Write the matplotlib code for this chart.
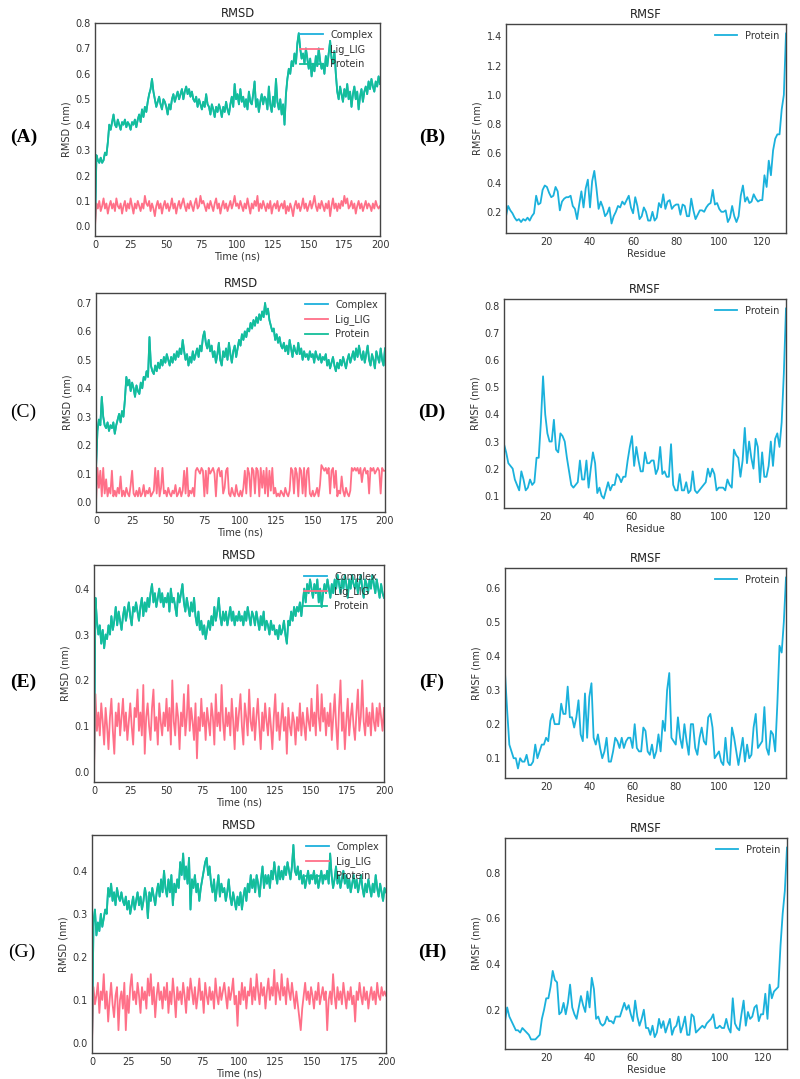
import matplotlib
matplotlib.use("Agg")
import matplotlib.pyplot as plt
import numpy as np

# ---------------- data ----------------
time_ns = list(range(0, 201))          # 0..200 ns, 1 ns step
residues = list(range(1, 132))         # residues 1..131

protein_A = [0.00,0.28,0.26,0.25,0.27,0.25,0.26,0.29,0.28,0.33,
0.40,0.38,0.41,0.44,0.40,0.39,0.42,0.40,0.38,0.41,
0.40,0.42,0.39,0.41,0.40,0.38,0.41,0.40,0.42,0.39,
0.42,0.44,0.41,0.46,0.43,0.47,0.45,0.49,0.52,0.54,
0.58,0.53,0.50,0.47,0.49,0.51,0.48,0.46,0.50,0.49,
0.47,0.44,0.48,0.46,0.50,0.52,0.49,0.51,0.53,0.50,
0.52,0.54,0.50,0.53,0.55,0.52,0.54,0.51,0.53,0.50,
0.49,0.51,0.47,0.50,0.48,0.46,0.49,0.47,0.52,0.48,
0.47,0.44,0.48,0.46,0.43,0.47,0.45,0.48,0.46,0.43,
0.47,0.45,0.49,0.46,0.44,0.48,0.51,0.47,0.56,0.50,
0.52,0.48,0.54,0.49,0.51,0.47,0.50,0.46,0.53,0.49,
0.48,0.52,0.57,0.47,0.50,0.45,0.49,0.52,0.48,0.51,
0.50,0.46,0.55,0.48,0.45,0.51,0.47,0.58,0.49,0.46,
0.50,0.44,0.48,0.40,0.52,0.58,0.62,0.60,0.65,0.63,
0.68,0.64,0.72,0.76,0.70,0.66,0.68,0.64,0.70,0.66,
0.62,0.66,0.59,0.64,0.61,0.67,0.63,0.70,0.65,0.62,
0.64,0.60,0.67,0.63,0.68,0.73,0.66,0.64,0.69,0.60,
0.53,0.50,0.55,0.52,0.49,0.54,0.51,0.56,0.50,0.53,
0.47,0.52,0.55,0.50,0.53,0.46,0.51,0.54,0.49,0.53,
0.55,0.52,0.57,0.54,0.58,0.55,0.53,0.57,0.55,0.59,
0.56]
ligand_A = [0.00,0.09,0.07,0.10,0.06,0.08,0.11,0.07,0.09,0.05,
0.08,0.10,0.07,0.09,0.06,0.11,0.08,0.07,0.09,0.05,
0.08,0.10,0.06,0.09,0.07,0.11,0.08,0.05,0.09,0.07,
0.10,0.08,0.06,0.09,0.07,0.12,0.09,0.08,0.10,0.06,
0.09,0.07,0.04,0.08,0.10,0.07,0.09,0.05,0.08,0.10,
0.07,0.09,0.06,0.08,0.11,0.07,0.09,0.05,0.08,0.10,
0.07,0.09,0.11,0.08,0.06,0.09,0.07,0.10,0.08,0.06,
0.09,0.11,0.07,0.08,0.12,0.09,0.10,0.08,0.06,0.09,
0.07,0.10,0.08,0.06,0.09,0.11,0.07,0.09,0.05,0.08,
0.10,0.07,0.09,0.06,0.08,0.10,0.07,0.09,0.12,0.08,
0.09,0.07,0.10,0.08,0.06,0.09,0.07,0.11,0.08,0.05,
0.09,0.07,0.10,0.08,0.12,0.06,0.09,0.07,0.10,0.08,
0.06,0.09,0.07,0.10,0.05,0.08,0.09,0.07,0.10,0.06,
0.08,0.09,0.07,0.10,0.05,0.08,0.06,0.09,0.07,0.04,
0.08,0.10,0.07,0.09,0.06,0.08,0.11,0.07,0.09,0.06,
0.08,0.10,0.07,0.09,0.12,0.08,0.06,0.09,0.07,0.10,
0.08,0.06,0.09,0.07,0.10,0.04,0.08,0.11,0.07,0.09,
0.06,0.09,0.07,0.10,0.08,0.12,0.09,0.11,0.07,0.08,
0.10,0.07,0.09,0.05,0.08,0.10,0.07,0.09,0.06,0.08,
0.10,0.07,0.09,0.08,0.06,0.09,0.07,0.10,0.08,0.07,
0.08]
complex_A = protein_A

protein_C = [0.12,0.25,0.29,0.27,0.37,0.30,0.27,0.26,0.28,0.25,
0.27,0.26,0.28,0.24,0.27,0.29,0.31,0.28,0.32,0.30,
0.36,0.44,0.41,0.43,0.39,0.42,0.40,0.37,0.41,0.39,
0.38,0.42,0.40,0.44,0.43,0.46,0.44,0.58,0.48,0.46,
0.45,0.48,0.46,0.49,0.47,0.50,0.48,0.51,0.49,0.52,
0.50,0.48,0.51,0.49,0.52,0.50,0.53,0.51,0.54,0.52,
0.57,0.53,0.50,0.52,0.48,0.51,0.49,0.53,0.50,0.52,
0.54,0.51,0.55,0.53,0.58,0.60,0.56,0.54,0.57,0.53,
0.55,0.51,0.53,0.49,0.52,0.56,0.50,0.48,0.53,0.51,
0.54,0.50,0.56,0.52,0.49,0.53,0.55,0.51,0.54,0.57,
0.55,0.59,0.57,0.60,0.58,0.61,0.60,0.63,0.61,0.64,
0.62,0.65,0.63,0.66,0.64,0.67,0.65,0.70,0.66,0.68,
0.64,0.62,0.60,0.61,0.57,0.59,0.56,0.58,0.55,0.54,
0.56,0.53,0.55,0.52,0.57,0.54,0.51,0.55,0.53,0.52,
0.56,0.52,0.54,0.50,0.53,0.51,0.52,0.50,0.53,0.51,
0.52,0.49,0.53,0.51,0.50,0.52,0.49,0.51,0.50,0.52,
0.48,0.50,0.47,0.49,0.51,0.48,0.46,0.49,0.47,0.50,
0.48,0.51,0.49,0.47,0.50,0.52,0.49,0.51,0.53,0.50,
0.54,0.51,0.55,0.52,0.50,0.53,0.49,0.52,0.55,0.50,
0.48,0.52,0.50,0.47,0.53,0.51,0.49,0.54,0.50,0.48,
0.54]
ligand_C = [0.00,0.12,0.05,0.11,0.02,0.12,0.03,0.08,0.02,0.05,
0.03,0.11,0.02,0.04,0.02,0.05,0.03,0.09,0.02,0.04,
0.02,0.05,0.03,0.02,0.06,0.11,0.03,0.02,0.04,0.02,
0.05,0.02,0.03,0.06,0.02,0.04,0.03,0.05,0.02,0.03,
0.04,0.12,0.03,0.11,0.02,0.05,0.12,0.03,0.04,0.02,
0.05,0.03,0.02,0.04,0.03,0.06,0.02,0.03,0.05,0.02,
0.04,0.11,0.03,0.12,0.02,0.04,0.03,0.05,0.02,0.11,
0.12,0.11,0.10,0.12,0.11,0.02,0.11,0.03,0.12,0.10,
0.11,0.12,0.10,0.02,0.11,0.12,0.09,0.11,0.03,0.05,
0.11,0.12,0.03,0.02,0.05,0.03,0.02,0.06,0.03,0.02,
0.04,0.02,0.05,0.11,0.03,0.12,0.10,0.02,0.12,0.11,
0.03,0.12,0.11,0.02,0.12,0.05,0.11,0.03,0.12,0.02,
0.11,0.04,0.12,0.03,0.05,0.02,0.03,0.02,0.04,0.03,
0.02,0.05,0.03,0.02,0.04,0.12,0.11,0.03,0.12,0.10,
0.02,0.12,0.11,0.03,0.12,0.02,0.11,0.12,0.03,0.02,
0.04,0.02,0.03,0.05,0.02,0.06,0.13,0.12,0.11,0.12,
0.10,0.12,0.03,0.11,0.12,0.05,0.11,0.02,0.04,0.03,
0.09,0.04,0.02,0.05,0.03,0.02,0.04,0.12,0.11,0.12,
0.11,0.12,0.10,0.12,0.07,0.11,0.12,0.10,0.11,0.03,
0.12,0.11,0.12,0.10,0.11,0.12,0.11,0.03,0.12,0.11,
0.11]
complex_C = protein_C

protein_E = [0.00,0.38,0.33,0.30,0.32,0.28,0.31,0.27,0.30,0.29,
0.32,0.30,0.34,0.31,0.33,0.36,0.32,0.35,0.33,0.31,
0.34,0.36,0.33,0.35,0.37,0.34,0.32,0.36,0.35,0.37,
0.35,0.33,0.36,0.38,0.34,0.37,0.35,0.38,0.36,0.39,
0.41,0.37,0.39,0.36,0.38,0.40,0.37,0.39,0.36,0.38,
0.37,0.39,0.35,0.40,0.37,0.38,0.36,0.34,0.39,0.37,
0.39,0.41,0.37,0.35,0.38,0.36,0.34,0.37,0.35,0.38,
0.34,0.32,0.35,0.31,0.33,0.30,0.32,0.29,0.31,0.33,
0.31,0.34,0.32,0.36,0.33,0.35,0.38,0.34,0.32,0.35,
0.33,0.35,0.32,0.34,0.36,0.33,0.35,0.32,0.34,0.33,
0.35,0.33,0.34,0.32,0.35,0.33,0.36,0.34,0.32,0.35,
0.34,0.32,0.35,0.33,0.31,0.34,0.32,0.35,0.31,0.33,
0.32,0.30,0.33,0.31,0.32,0.30,0.31,0.29,0.32,0.30,
0.31,0.33,0.30,0.28,0.33,0.32,0.35,0.33,0.36,0.34,
0.36,0.35,0.37,0.34,0.37,0.40,0.37,0.41,0.39,0.42,
0.40,0.38,0.41,0.39,0.42,0.37,0.40,0.36,0.39,0.41,
0.39,0.42,0.40,0.38,0.41,0.39,0.42,0.40,0.43,0.41,
0.39,0.42,0.40,0.43,0.41,0.38,0.42,0.40,0.43,0.41,
0.40,0.42,0.39,0.41,0.43,0.40,0.38,0.42,0.41,0.39,
0.42,0.40,0.43,0.41,0.39,0.42,0.40,0.38,0.41,0.39,
0.38]
ligand_E = [0.00,0.17,0.09,0.13,0.08,0.15,0.11,0.06,0.14,0.10,
0.05,0.12,0.16,0.09,0.04,0.13,0.10,0.15,0.08,0.12,
0.16,0.09,0.13,0.07,0.11,0.15,0.10,0.06,0.14,0.12,
0.18,0.09,0.13,0.08,0.19,0.04,0.12,0.15,0.10,0.07,
0.14,0.18,0.09,0.12,0.06,0.15,0.11,0.08,0.13,0.10,
0.16,0.09,0.14,0.06,0.20,0.11,0.08,0.15,0.12,0.05,
0.13,0.10,0.17,0.08,0.12,0.19,0.09,0.14,0.11,0.07,
0.15,0.03,0.12,0.09,0.16,0.10,0.13,0.07,0.14,0.11,
0.08,0.15,0.12,0.06,0.17,0.10,0.13,0.09,0.19,0.11,
0.07,0.14,0.10,0.13,0.08,0.16,0.11,0.05,0.14,0.09,
0.13,0.17,0.10,0.06,0.15,0.12,0.08,0.18,0.11,0.09,
0.14,0.07,0.12,0.16,0.10,0.05,0.13,0.09,0.15,0.11,
0.08,0.14,0.10,0.05,0.12,0.17,0.09,0.13,0.07,0.11,
0.15,0.09,0.12,0.04,0.14,0.10,0.08,0.13,0.11,0.06,
0.12,0.09,0.15,0.08,0.13,0.10,0.07,0.14,0.11,0.09,
0.16,0.10,0.13,0.08,0.19,0.12,0.09,0.17,0.11,0.14,
0.08,0.13,0.10,0.15,0.07,0.12,0.17,0.10,0.05,0.14,
0.20,0.09,0.13,0.05,0.11,0.16,0.08,0.12,0.15,0.10,
0.07,0.13,0.18,0.09,0.12,0.20,0.11,0.08,0.14,0.10,
0.13,0.08,0.15,0.11,0.09,0.14,0.10,0.15,0.12,0.09,
0.14]
complex_E = protein_E

protein_G = [0.00,0.28,0.31,0.25,0.28,0.26,0.30,0.27,0.29,0.31,
0.30,0.36,0.34,0.37,0.33,0.35,0.32,0.36,0.34,0.33,
0.35,0.33,0.32,0.34,0.31,0.33,0.30,0.32,0.34,0.31,
0.33,0.35,0.32,0.34,0.31,0.33,0.36,0.34,0.29,0.35,
0.33,0.36,0.34,0.32,0.35,0.37,0.34,0.38,0.35,0.40,
0.36,0.34,0.38,0.35,0.39,0.32,0.37,0.35,0.38,0.36,
0.42,0.39,0.44,0.38,0.41,0.37,0.43,0.31,0.38,0.36,
0.39,0.35,0.37,0.33,0.36,0.38,0.40,0.42,0.43,0.39,
0.41,0.37,0.35,0.38,0.33,0.36,0.39,0.34,0.37,0.35,
0.36,0.33,0.35,0.38,0.34,0.32,0.35,0.33,0.31,0.34,
0.32,0.35,0.31,0.34,0.36,0.33,0.37,0.35,0.39,0.36,
0.38,0.35,0.39,0.37,0.34,0.38,0.41,0.36,0.39,0.37,
0.39,0.36,0.40,0.38,0.42,0.39,0.37,0.41,0.38,0.40,
0.38,0.41,0.39,0.42,0.40,0.38,0.41,0.46,0.40,0.39,
0.41,0.38,0.40,0.37,0.39,0.36,0.38,0.40,0.37,0.39,
0.38,0.40,0.37,0.39,0.36,0.38,0.40,0.37,0.39,0.38,
0.40,0.37,0.44,0.39,0.36,0.38,0.41,0.37,0.39,0.36,
0.38,0.40,0.37,0.39,0.36,0.38,0.35,0.37,0.39,0.36,
0.38,0.35,0.37,0.39,0.36,0.34,0.37,0.35,0.38,0.36,
0.34,0.37,0.35,0.39,0.36,0.34,0.37,0.35,0.33,0.36,
0.35]
ligand_G = [0.00,0.13,0.09,0.11,0.14,0.07,0.12,0.10,0.16,0.08,
0.12,0.05,0.10,0.14,0.09,0.06,0.11,0.13,0.03,0.10,
0.12,0.08,0.14,0.03,0.11,0.07,0.13,0.16,0.10,0.12,
0.09,0.14,0.11,0.07,0.13,0.10,0.12,0.08,0.15,0.11,
0.16,0.09,0.13,0.06,0.11,0.14,0.10,0.12,0.08,0.13,
0.10,0.14,0.07,0.12,0.09,0.15,0.11,0.06,0.13,0.10,
0.12,0.09,0.14,0.11,0.07,0.13,0.10,0.15,0.12,0.09,
0.13,0.08,0.11,0.15,0.10,0.12,0.07,0.14,0.11,0.09,
0.13,0.10,0.12,0.08,0.15,0.11,0.09,0.13,0.10,0.12,
0.14,0.11,0.08,0.13,0.10,0.12,0.15,0.09,0.11,0.04,
0.12,0.09,0.14,0.10,0.13,0.08,0.12,0.11,0.15,0.09,
0.13,0.10,0.16,0.12,0.09,0.14,0.11,0.13,0.08,0.12,
0.15,0.10,0.13,0.11,0.17,0.09,0.14,0.12,0.10,0.16,
0.11,0.13,0.09,0.15,0.12,0.10,0.14,0.11,0.08,0.12,
0.09,0.06,0.03,0.08,0.11,0.14,0.10,0.12,0.09,0.13,
0.11,0.08,0.12,0.10,0.14,0.09,0.11,0.13,0.10,0.12,
0.03,0.10,0.12,0.09,0.16,0.11,0.08,0.13,0.10,0.12,
0.09,0.14,0.11,0.08,0.12,0.10,0.13,0.09,0.11,0.05,
0.12,0.10,0.14,0.11,0.09,0.13,0.10,0.12,0.08,0.11,
0.13,0.10,0.12,0.09,0.14,0.11,0.10,0.13,0.11,0.12,
0.11]
complex_G = protein_G

rmsf_B = [0.17,0.24,0.21,0.19,0.16,0.14,0.15,0.13,0.15,0.14,
0.16,0.14,0.17,0.19,0.31,0.25,0.26,0.35,0.38,0.37,
0.33,0.30,0.31,0.37,0.34,0.21,0.27,0.29,0.30,0.30,
0.31,0.24,0.22,0.15,0.25,0.34,0.23,0.36,0.42,0.23,
0.41,0.48,0.36,0.22,0.27,0.23,0.17,0.19,0.23,0.12,
0.17,0.20,0.24,0.23,0.27,0.25,0.28,0.31,0.23,0.19,
0.30,0.24,0.15,0.17,0.23,0.20,0.14,0.14,0.20,0.14,
0.16,0.26,0.23,0.32,0.22,0.27,0.28,0.22,0.24,0.25,
0.25,0.18,0.25,0.24,0.17,0.17,0.29,0.21,0.15,0.18,
0.21,0.21,0.20,0.23,0.25,0.26,0.35,0.25,0.26,0.22,
0.20,0.20,0.21,0.13,0.16,0.24,0.17,0.13,0.17,0.31,
0.38,0.27,0.30,0.26,0.27,0.32,0.29,0.27,0.28,0.28,
0.45,0.37,0.55,0.45,0.62,0.70,0.73,0.73,0.90,1.00,
1.42]
rmsf_D = [0.29,0.26,0.22,0.21,0.20,0.16,0.14,0.12,0.19,0.16,
0.12,0.13,0.16,0.14,0.15,0.24,0.24,0.37,0.54,0.40,
0.33,0.30,0.30,0.38,0.27,0.26,0.33,0.32,0.30,0.24,
0.19,0.14,0.13,0.14,0.15,0.23,0.16,0.16,0.23,0.13,
0.20,0.26,0.22,0.11,0.13,0.10,0.09,0.12,0.15,0.12,
0.14,0.14,0.18,0.17,0.15,0.17,0.17,0.23,0.28,0.32,
0.21,0.28,0.23,0.19,0.19,0.26,0.22,0.22,0.23,0.23,
0.18,0.20,0.28,0.18,0.19,0.17,0.17,0.29,0.14,0.12,
0.12,0.18,0.12,0.12,0.15,0.11,0.12,0.19,0.12,0.11,
0.12,0.13,0.14,0.15,0.20,0.17,0.20,0.18,0.12,0.13,
0.13,0.13,0.12,0.16,0.14,0.13,0.27,0.25,0.24,0.17,
0.23,0.35,0.22,0.30,0.24,0.20,0.31,0.28,0.15,0.26,
0.17,0.17,0.21,0.30,0.21,0.31,0.33,0.28,0.37,0.55,
0.79]
rmsf_F = [0.35,0.24,0.14,0.12,0.10,0.10,0.07,0.10,0.09,0.09,
0.11,0.08,0.08,0.09,0.14,0.10,0.12,0.14,0.14,0.16,
0.15,0.21,0.23,0.20,0.20,0.20,0.26,0.23,0.23,0.31,
0.22,0.22,0.19,0.22,0.27,0.17,0.15,0.29,0.16,0.28,
0.32,0.16,0.14,0.17,0.13,0.10,0.12,0.16,0.09,0.09,
0.12,0.16,0.15,0.13,0.16,0.13,0.15,0.16,0.16,0.13,
0.20,0.13,0.12,0.12,0.19,0.18,0.12,0.11,0.14,0.10,
0.12,0.17,0.12,0.21,0.18,0.30,0.35,0.16,0.15,0.14,
0.22,0.16,0.13,0.20,0.15,0.11,0.20,0.20,0.13,0.11,
0.16,0.19,0.15,0.14,0.22,0.23,0.19,0.10,0.11,0.12,
0.09,0.08,0.16,0.09,0.08,0.19,0.16,0.12,0.08,0.12,
0.16,0.09,0.14,0.10,0.11,0.19,0.23,0.13,0.14,0.15,
0.25,0.13,0.11,0.18,0.17,0.12,0.26,0.43,0.41,0.50,
0.63]
rmsf_H = [0.15,0.21,0.17,0.15,0.13,0.11,0.11,0.10,0.12,0.11,
0.10,0.09,0.07,0.07,0.07,0.08,0.09,0.16,0.20,0.25,
0.25,0.30,0.37,0.33,0.32,0.18,0.19,0.23,0.18,0.23,
0.31,0.21,0.18,0.16,0.21,0.26,0.22,0.19,0.28,0.21,
0.34,0.29,0.16,0.17,0.14,0.13,0.14,0.17,0.15,0.15,
0.14,0.17,0.17,0.17,0.20,0.23,0.20,0.22,0.18,0.15,
0.24,0.17,0.13,0.16,0.20,0.12,0.12,0.09,0.13,0.08,
0.10,0.16,0.12,0.15,0.10,0.13,0.16,0.09,0.12,0.13,
0.17,0.10,0.13,0.17,0.09,0.09,0.18,0.17,0.10,0.11,
0.12,0.13,0.12,0.14,0.15,0.16,0.18,0.12,0.12,0.13,
0.12,0.12,0.16,0.12,0.10,0.25,0.14,0.12,0.11,0.18,
0.24,0.13,0.19,0.16,0.17,0.21,0.22,0.15,0.18,0.18,
0.27,0.16,0.31,0.25,0.28,0.29,0.30,0.48,0.62,0.72,
0.91]

panel_labels = ["(A)", "(B)", "(C)", "(D)", "(E)", "(F)", "(G)", "(H)"]
rmsd_series = [(complex_A, ligand_A, protein_A), (complex_C, ligand_C, protein_C),
               (complex_E, ligand_E, protein_E), (complex_G, ligand_G, protein_G)]
rmsf_series = [rmsf_B, rmsf_D, rmsf_F, rmsf_H]
rmsd_yticks = [[0.0,0.1,0.2,0.3,0.4,0.5,0.6,0.7,0.8],
               [0.0,0.1,0.2,0.3,0.4,0.5,0.6,0.7],
               [0.0,0.1,0.2,0.3,0.4],
               [0.0,0.1,0.2,0.3,0.4]]
rmsf_yticks = [[0.2,0.4,0.6,0.8,1.0,1.2,1.4],
               [0.1,0.2,0.3,0.4,0.5,0.6,0.7,0.8],
               [0.1,0.2,0.3,0.4,0.5,0.6],
               [0.2,0.4,0.6,0.8]]
rmsd_xticks = [0, 25, 50, 75, 100, 125, 150, 175, 200]
rmsf_xticks = [20, 40, 60, 80, 100, 120]
series_names = ["Complex", "Lig_LIG", "Protein"]

# ---------------- style ----------------
C_COMPLEX = "#1cb0dc"
C_LIG = "#ff7088"
C_PROT = "#14be9a"
C_RMSF = "#1ab1dc"
SPINE = "#444444"
TXT = "#333333"

W, H = 800, 1079
fig = plt.figure(figsize=(W / 100, H / 100), dpi=100)
fig.patch.set_facecolor("white")

# pixel boxes (left, top, right, bottom)
left_boxes = [(95, 23, 380, 236), (96, 293, 385, 512), (94, 565, 384, 782), (92, 835, 386, 1053)]
right_boxes = [(506, 24, 786, 233), (504, 299, 786, 508), (505, 568, 786, 778), (505, 838, 787, 1049)]
label_pos_left = [(24, 137), (23, 412), (23, 682), (22, 952)]
label_pos_right = [(432, 137), (432, 412), (432, 682), (432, 952)]
label_bold = [True, True, False, True, True, True, False, True]


def make_ax(box):
    l, t, r, b = box
    return fig.add_axes([l / W, 1 - b / H, (r - l) / W, (b - t) / H])


def style_ax(ax):
    for s in ax.spines.values():
        s.set_color(SPINE)
        s.set_linewidth(1.0)
    ax.tick_params(length=0, pad=3, labelsize=7, colors=TXT)


for i in range(4):
    # RMSD
    ax = make_ax(left_boxes[i])
    cx, lg, pr = rmsd_series[i]
    ax.plot(time_ns, cx, color=C_COMPLEX, lw=1.3, label=series_names[0])
    ax.plot(time_ns, lg, color=C_LIG, lw=1.3, label=series_names[1])
    ax.plot(time_ns, pr, color=C_PROT, lw=1.3, label=series_names[2])
    ax.set_xlim(0, 200)
    ax.set_xticks(rmsd_xticks)
    ax.set_yticks(rmsd_yticks[i])
    ax.set_title("RMSD", fontsize=8.3, pad=4, color="#222222")
    ax.set_xlabel("Time (ns)", fontsize=7, labelpad=1, color=TXT)
    ax.set_ylabel("RMSD (nm)", fontsize=7, labelpad=3, color=TXT)
    style_ax(ax)
    leg = ax.legend(loc="upper right", frameon=False, fontsize=7, handlelength=2.3,
                    labelspacing=0.45, borderaxespad=0.3)
    for t in leg.get_texts():
        t.set_color(TXT)

    # RMSF
    ax2 = make_ax(right_boxes[i])
    ax2.plot(residues, rmsf_series[i], color=C_RMSF, lw=1.3, label="Protein")
    ax2.set_xlim(1, 131)
    ax2.set_xticks(rmsf_xticks)
    ax2.set_yticks(rmsf_yticks[i])
    ax2.set_title("RMSF", fontsize=8.3, pad=4, color="#222222")
    ax2.set_xlabel("Residue", fontsize=7, labelpad=1, color=TXT)
    ax2.set_ylabel("RMSF (nm)", fontsize=7, labelpad=3, color=TXT)
    style_ax(ax2)
    leg2 = ax2.legend(loc="upper right", frameon=False, fontsize=7, handlelength=2.3,
                      borderaxespad=0.3)
    for t in leg2.get_texts():
        t.set_color(TXT)

    # panel labels
    lx, ly = label_pos_left[i]
    fig.text(lx / W, 1 - ly / H, panel_labels[2 * i], ha="center", va="center",
             fontsize=14, family="Liberation Serif",
             fontweight="bold" if label_bold[2 * i] else "normal", color="black")
    rx, ry = label_pos_right[i]
    fig.text(rx / W, 1 - ry / H, panel_labels[2 * i + 1], ha="center", va="center",
             fontsize=14, family="Liberation Serif",
             fontweight="bold" if label_bold[2 * i + 1] else "normal", color="black")

fig.savefig("out.png", dpi=100, facecolor="white")
